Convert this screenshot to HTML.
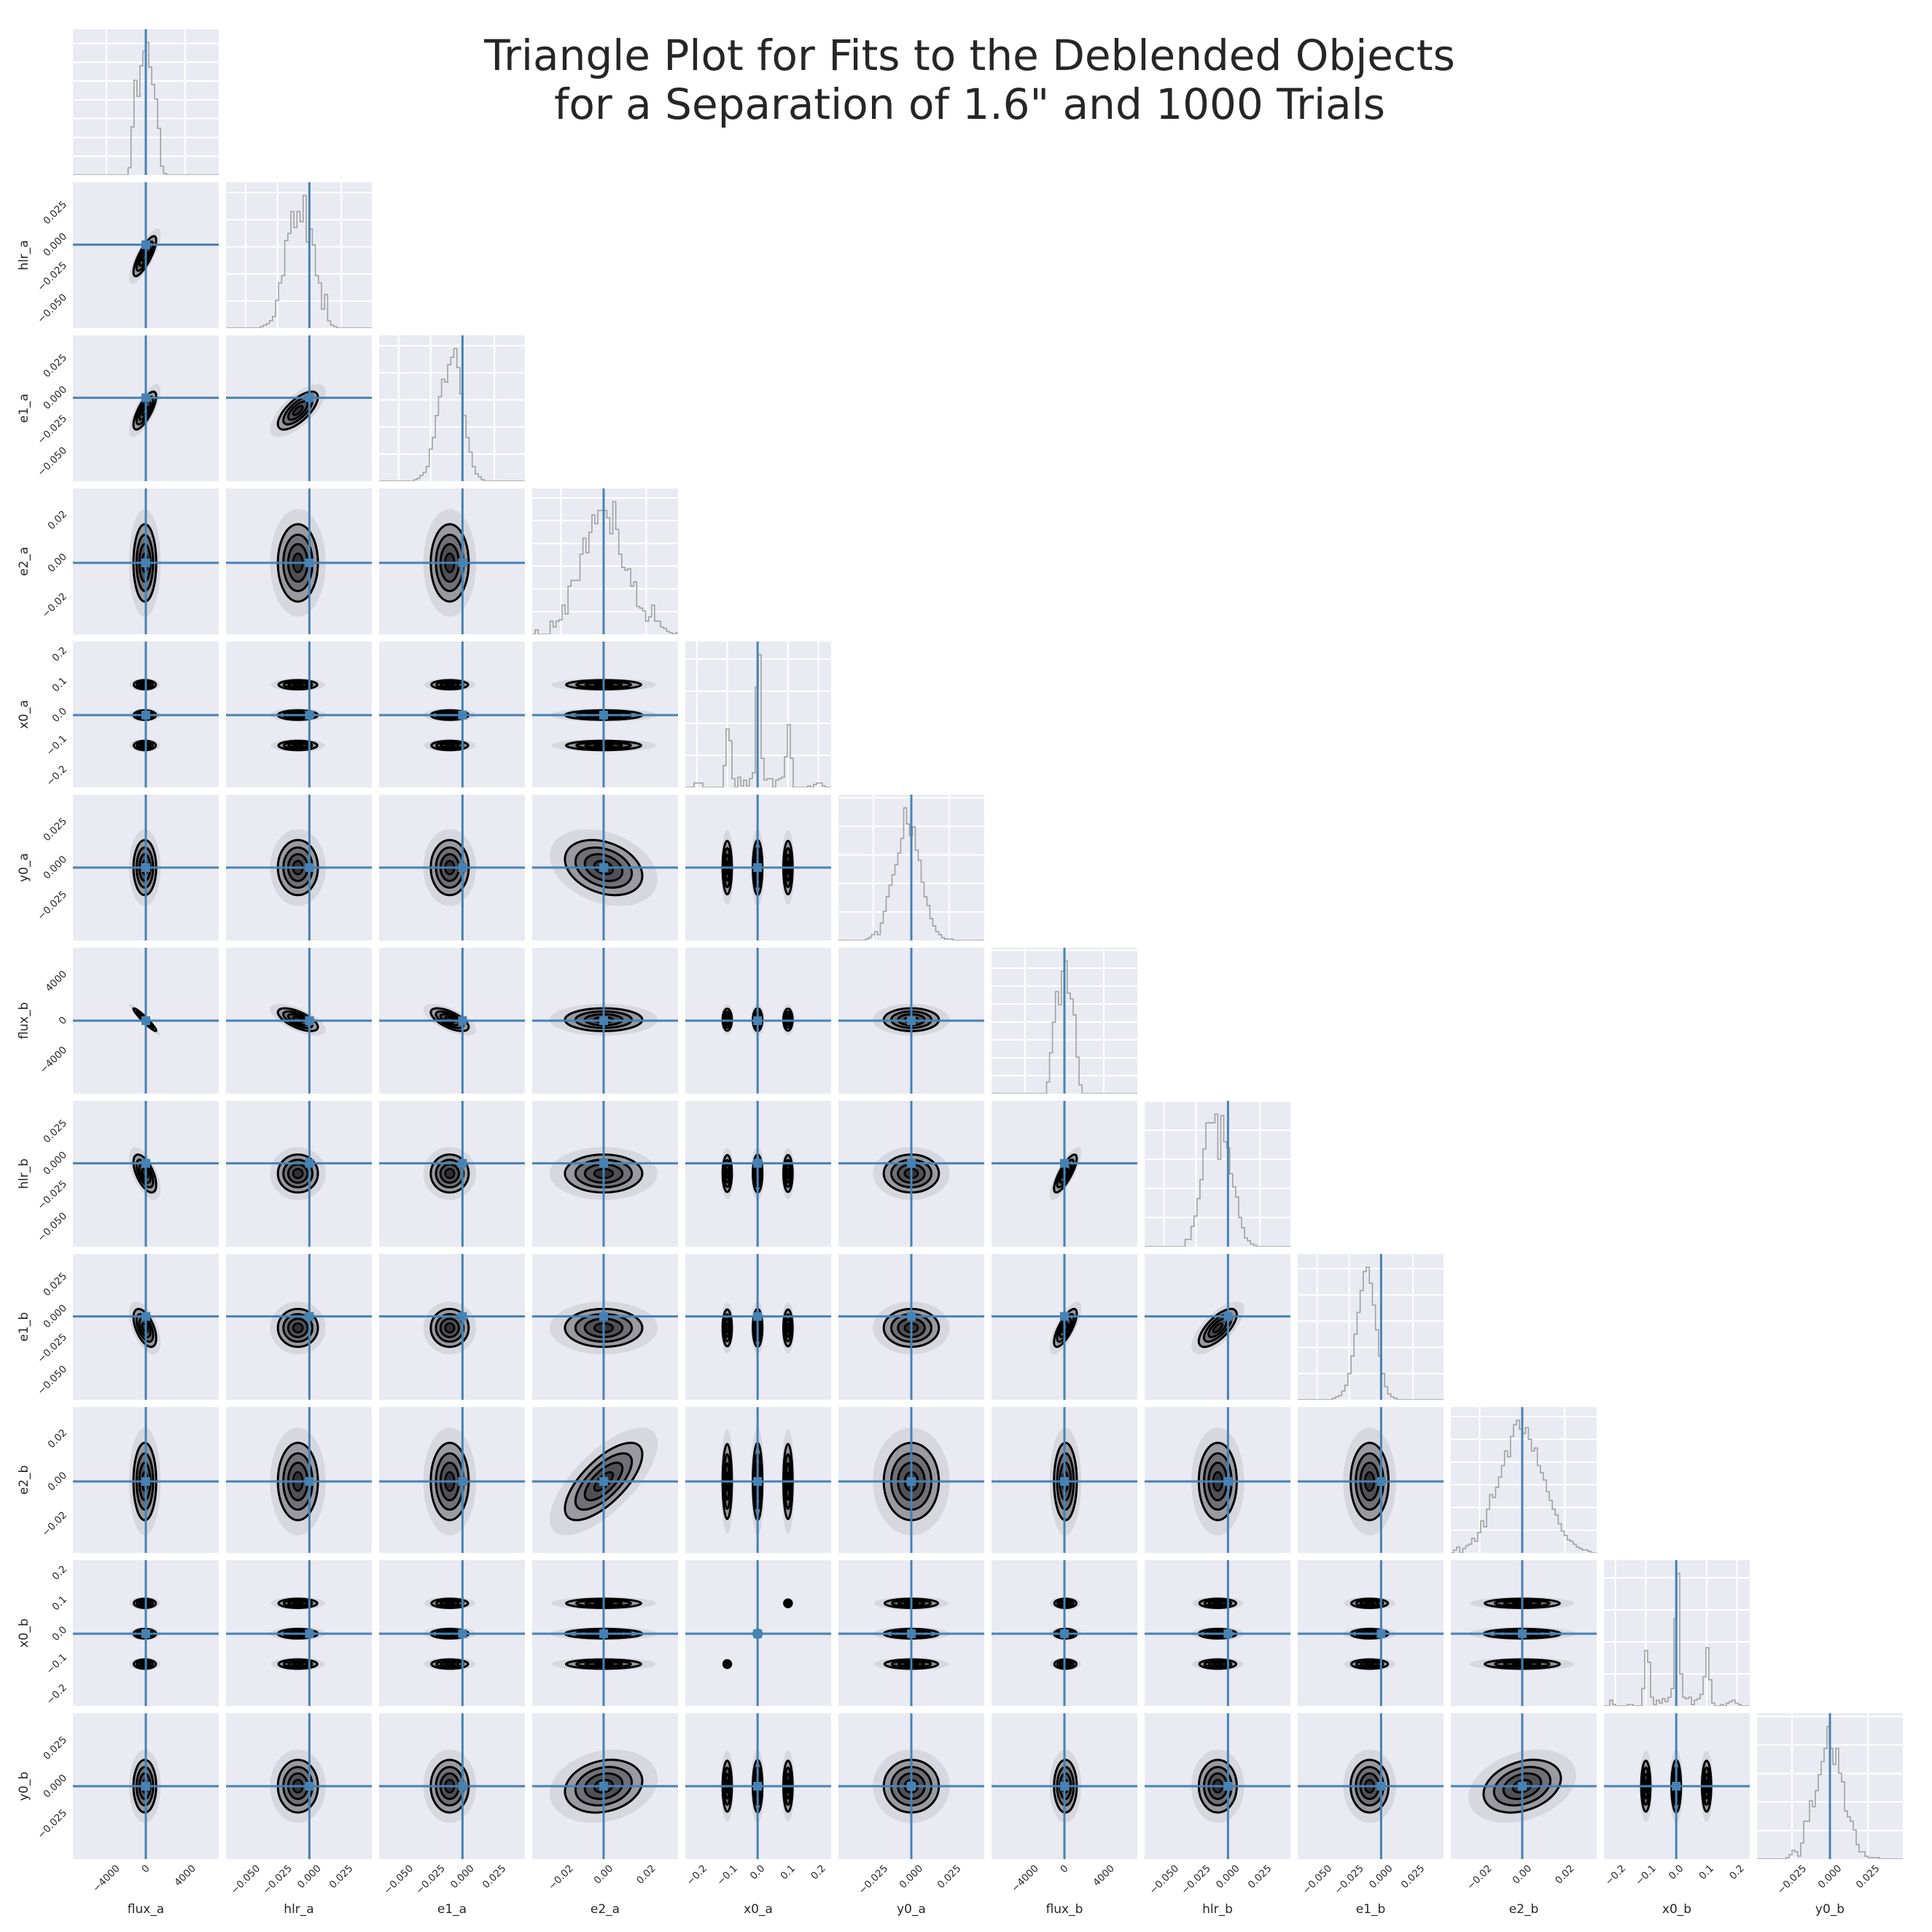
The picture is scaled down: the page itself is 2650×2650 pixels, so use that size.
<!DOCTYPE html>
<html><head><meta charset="utf-8"><title>Triangle plot</title>
<style>html,body{margin:0;padding:0;background:#fff}svg{display:block}</style></head>
<body>
<svg id="fig" xmlns="http://www.w3.org/2000/svg" width="2650" height="2650" viewBox="0 0 2650 2650" font-family="'DejaVu Sans','Liberation Sans',sans-serif">
<rect x="0" y="0" width="2650" height="2650" fill="#ffffff"/>
<text x="1330" y="96" font-size="58" text-anchor="middle" fill="#262626">Triangle Plot for Fits to the Deblended Objects</text>
<text x="1330" y="163" font-size="58" text-anchor="middle" fill="#262626">for a Separation of 1.6" and 1000 Trials</text>
<g id="panels"></g>
</svg>
<script>
const names = ["flux_a","hlr_a","e1_a","e2_a","x0_a","y0_a","flux_b","hlr_b","e1_b","e2_b","x0_b","y0_b"];
const axisLo = [-7400,-0.0653,-0.0653,-0.0335,-0.238,-0.048,-7400,-0.0653,-0.0653,-0.0335,-0.238,-0.048];
const axisHi = [7400,0.0489,0.0489,0.0349,0.242,0.048,7400,0.0489,0.0489,0.0349,0.242,0.048];
const truths = [0,0,0,0,0,0,0,0,0,0,0,0];
const tickVals = [
  [-4000,0,4000],[-0.05,-0.025,0,0.025],[-0.05,-0.025,0,0.025],[-0.02,0,0.02],[-0.2,-0.1,0,0.1,0.2],[-0.025,0,0.025],
  [-4000,0,4000],[-0.05,-0.025,0,0.025],[-0.05,-0.025,0,0.025],[-0.02,0,0.02],[-0.2,-0.1,0,0.1,0.2],[-0.025,0,0.025]];
const tickLabels = [
  ["−4000","0","4000"],["−0.050","−0.025","0.000","0.025"],["−0.050","−0.025","0.000","0.025"],["−0.02","0.00","0.02"],["−0.2","−0.1","0.0","0.1","0.2"],["−0.025","0.000","0.025"],
  ["−4000","0","4000"],["−0.050","−0.025","0.000","0.025"],["−0.050","−0.025","0.000","0.025"],["−0.02","0.00","0.02"],["−0.2","−0.1","0.0","0.1","0.2"],["−0.025","0.000","0.025"]];
const means = [-100,-0.009,-0.010,0.000,0,0.000,100,-0.008,-0.009,0.000,0,0.000];
const sds   = [700,0.0095,0.009,0.011,0.01,0.011,700,0.009,0.009,0.011,0.01,0.0105];
const x0Modes = [-0.1,0,0.1];
const x0ModeScale = [0.8,1,0.8];
const corrPairs = [[1,0,0.8],[2,0,0.75],[2,1,0.7],[6,0,-0.95],[6,1,-0.65],[6,2,-0.65],[7,0,-0.6],[8,0,-0.55],[7,6,0.8],[8,6,0.75],[8,7,0.7],[9,3,0.7],[5,3,-0.3],[11,9,0.3],[11,3,0.2]];
const histStart = [-1800,-0.0385,-0.038,-0.0335,-0.238,-0.0300,-1813,-0.0336,-0.038,-0.0335,-0.238,-0.0288];
const histWidth = [300,0.0024,0.0024,0.0014,0.0096,0.00192,300,0.00233,0.0024,0.0014,0.0096,0.00192];
const histFluxA = [5,33,65,54,75,85,91,74,62,52,32,6,1];
const histHlrA = [1,2,3,5,8,19,31,36,60,65,80,69,80,73,91,59,68,57,36,31,13,23,5,2,1];
const histE1A = [1,2,4,6,10,22,30,45,58,70,68,80,85,91,78,60,45,30,20,10,5,3,1];
const histE2A = [0,3,0,0,0,0,9,5,9,10,20,14,33,37,37,37,55,66,56,70,82,76,85,85,85,80,69,91,72,55,46,44,45,33,36,19,18,16,9,12,20,9,9,5,4,2,1,0,1];
const histX0A = [0,0,0,3,3,3,0,0,0,0,0,0,0,15,40,32,6,0,7,1,5,1,6,10,69,91,20,5,6,6,0,5,6,7,21,43,20,0,0,0,0,0,1,0,2,3,3,1,0,0];
const histY0A = [1,2,4,6,4,12,20,30,38,45,52,60,70,91,80,72,78,62,55,40,30,24,15,10,6,4,2,1,1,1];
const histFluxB = [8,28,49,70,61,84,91,69,65,54,25,6];
const histHlrB = [5,5,14,21,33,46,67,85,85,85,91,60,90,72,68,50,41,34,20,13,6,4,2,1];
const histE1B = [1,2,3,6,10,18,30,45,60,75,88,91,80,65,48,30,18,9,4,2,1];
const histE2B = [0,2,4,0,3,5,6,10,8,14,22,18,30,40,38,45,52,60,70,66,80,88,91,85,82,86,78,70,72,60,55,50,42,36,30,26,20,15,12,9,8,6,4,3,2,2,1,0,0];
const histX0B = [0,0,4,1,0,0,0,0,1,1,0,0,0,12,38,30,6,1,4,2,5,3,6,12,60,91,22,6,5,6,1,4,5,8,20,40,18,2,0,0,1,0,2,3,4,2,1,0,0,0];
const histY0B = [1,3,6,5,2,11,26,26,40,36,47,58,67,76,91,76,65,76,59,53,33,29,26,20,10,5,5,2,1,1,1,1];
const histCounts = [histFluxA,histHlrA,histE1A,histE2A,histX0A,histY0A,histFluxB,histHlrB,histE1B,histE2B,histX0B,histY0B];
const histGridStep = [12.9,18.6,18.6,15.6,22,19.6,12.3,20,18,15.6,22,19.6];

const X0 = 100, Y0 = 40, P = 210, S = 200, N = 12;
const NS = "http://www.w3.org/2000/svg";
const root = document.getElementById("panels");
const BLUE = "#4682b4";
function mk(tag, attrs, parent){ const e = document.createElementNS(NS, tag); for (const k in attrs) e.setAttribute(k, attrs[k]); (parent||root).appendChild(e); return e; }
function xs(v, j){ return X0 + j*P + S*(v - axisLo[j])/(axisHi[j]-axisLo[j]); }
function ys(v, i){ return Y0 + i*P + S*(axisHi[i] - v)/(axisHi[i]-axisLo[i]); }
function labelLen(s){ let L=0; for (const c of s){ L += (c==='.')?4.3:(c==='−')?11.3:8.6; } return L; }
function isX0(k){ return k===4 || k===10; }
function rhoOf(i,j){ for (const p of corrPairs){ if ((p[0]===i&&p[1]===j)||(p[0]===j&&p[1]===i)) return p[2]; } return 0; }

for (let i=0;i<N;i++){
  for (let j=0;j<=i;j++){
    const g = mk("g", {});
    
    
    const left = X0 + j*P, top = Y0 + i*P;
    const bg = mk("rect", {x:left, y:top, width:S, height:S, fill:"#eaeaf2"}, g);
    
    
    const clipId = "c"+i+"_"+j;
    const cp = mk("clipPath", {id:clipId}, g);
    mk("rect", {x:left, y:top, width:S, height:S}, cp);
    const inner = mk("g", {"clip-path":"url(#"+clipId+")"}, g);
    if (i===j){
      for (const t of tickVals[j]){
        const gl = mk("line", {x1:xs(t,j), x2:xs(t,j), y1:top, y2:top+S, stroke:"#fff", "stroke-width":2}, inner);
        
        
      }
      const counts = histCounts[i];
      const ymax = Math.max(...counts)*1.1;
      for (let c=histGridStep[i]; c<ymax; c+=histGridStep[i]){
        const yy = top + S - c/ymax*S;
        const gl = mk("line", {x1:left, x2:left+S, y1:yy, y2:yy, stroke:"#fff", "stroke-width":2}, inner);
        
        
      }
      let d = "M"+left+","+(top+S)+" H"+xs(histStart[i],j).toFixed(2);
      for (let k=0;k<counts.length;k++){
        const x1 = xs(histStart[i]+(k+1)*histWidth[i], j);
        const yy = top + S - counts[k]/ymax*S;
        d += " V"+yy.toFixed(2)+" H"+x1.toFixed(2);
      }
      d += " V"+(top+S)+" H"+(left+S);
      const h = mk("path", {d:d, fill:"none", stroke:"#a0a0a0", "stroke-width":1.6}, inner);
      
      
      const tl = mk("line", {x1:xs(truths[j],j), x2:xs(truths[j],j), y1:top, y2:top+S, stroke:BLUE, "stroke-width":3}, inner);
      
      
    } else {
      const comps = [];
      const xm = isX0(j), ym = isX0(i);
      if (xm && ym){
        for (let k=0;k<x0Modes.length;k++) comps.push([x0Modes[k], x0Modes[k], sds[j]*0.8, sds[i]*0.8, 0, x0ModeScale[k]*0.8]);
      } else if (xm){
        for (let k=0;k<x0Modes.length;k++) comps.push([x0Modes[k], means[i], sds[j]*0.95, sds[i], 0, x0ModeScale[k]]);
      } else if (ym){
        for (let k=0;k<x0Modes.length;k++) comps.push([means[j], x0Modes[k], sds[j], sds[i]*0.95, 0, x0ModeScale[k]]);
      } else {
        comps.push([means[j], means[i], sds[j], sds[i], rhoOf(i,j), 1]);
      }
      const sxk = S/(axisHi[j]-axisLo[j]), syk = S/(axisHi[i]-axisLo[i]);
      const levels = [[2.3,"#d2d2da",0,0.8],[1.65,"#9a9aa0",3,1],[1.2,"#707076",3,1],[0.8,"#505056",3,1],[0.4,"#303036",2.6,1]];
      for (const lv of levels){
        for (const c of comps){
          const cx = xs(c[0],j), cy = ys(c[1],i);
          const sx = c[2]*sxk, sy = c[3]*syk;
          const a = sx*sx, cc = sy*sy, b = -c[4]*sx*sy;
          const th = 0.5*Math.atan2(2*b, a-cc);
          const mid = (a+cc)/2, rad = Math.sqrt(((a-cc)/2)*((a-cc)/2)+b*b);
          const r1 = Math.sqrt(mid+rad), r2 = Math.sqrt(Math.max(mid-rad,0.5));
          const sc = lv[0]*(c[5]===1?1:(0.85+0.15*c[5]));
          const e = mk("ellipse", {cx:cx.toFixed(2), cy:cy.toFixed(2), rx:(r1*sc).toFixed(2), ry:(r2*sc).toFixed(2),
            transform:"rotate("+(th*180/Math.PI).toFixed(2)+" "+cx.toFixed(2)+" "+cy.toFixed(2)+")",
            fill:lv[1], "fill-opacity":lv[3], stroke:lv[2]>0?"#000":"none", "stroke-width":lv[2]}, inner);
          
          
        }
      }
      const vx = xs(truths[j],j), hy = ys(truths[i],i);
      const v = mk("line", {x1:vx, x2:vx, y1:top, y2:top+S, stroke:BLUE, "stroke-width":3}, inner);
      
      
      const hl = mk("line", {x1:left, x2:left+S, y1:hy, y2:hy, stroke:BLUE, "stroke-width":3}, inner);
      
      
      const m = mk("rect", {x:vx-6, y:hy-6, width:12, height:12, fill:BLUE}, inner);
      
      
    }
    if (i===N-1){
      tickVals[j].forEach((t,k)=>{
        const s = tickLabels[j][k], L = labelLen(s);
        const cx = xs(t,j), cy = top + S + 6 + (L+13)*0.707/2;
        const tx = mk("text", {x:cx, y:cy, "font-size":13.5, fill:"#262626", "text-anchor":"middle", "dominant-baseline":"central", transform:"rotate(-45 "+cx+" "+cy+")"});
        tx.textContent = s;
        
        
      });
      const xl = mk("text", {x:left+S/2, y:top+S+74, "font-size":17, fill:"#262626", "text-anchor":"middle"});
      xl.textContent = names[j];
      
      
    }
    if (j===0 && i>0){
      tickVals[i].forEach((t,k)=>{
        const s = tickLabels[i][k], L = labelLen(s);
        const cy = ys(t,i), cx = left - 6 - (L+13)*0.707/2;
        const tx = mk("text", {x:cx, y:cy, "font-size":13.5, fill:"#262626", "text-anchor":"middle", "dominant-baseline":"central", transform:"rotate(-45 "+cx+" "+cy+")"});
        tx.textContent = s;
        
        
      });
      const yl = mk("text", {x:0, y:0, "font-size":17, fill:"#262626", "text-anchor":"middle", transform:"translate(38 "+(top+S/2)+") rotate(-90)"});
      yl.textContent = names[i];
      
      
    }
  }
}
</script>
</body></html>
